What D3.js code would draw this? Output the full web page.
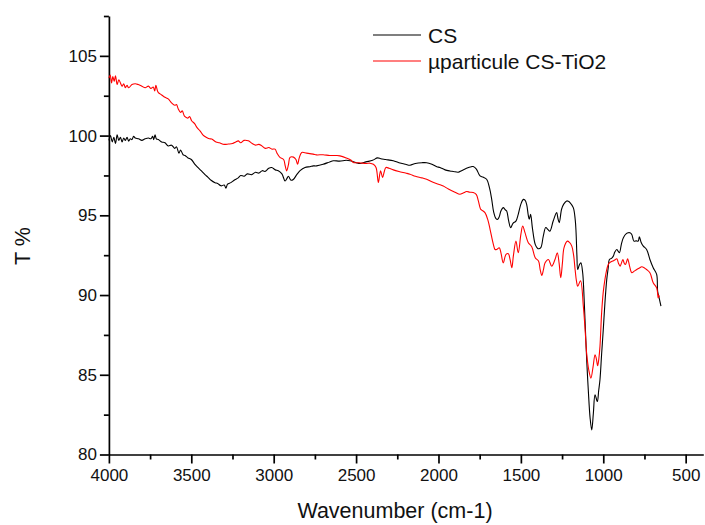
<!DOCTYPE html>
<html>
<head>
<meta charset="utf-8">
<script src="https://cdn.jsdelivr.net/npm/d3@7/dist/d3.min.js"></script>
<style>
  html, body { margin: 0; padding: 0; background: #fff; }
  svg { display: block; font-family: "Liberation Sans", Arial, sans-serif; }
</style>
</head>
<body>
<svg id="chart" width="705" height="525"></svg>
<script>
// FTIR transmittance spectra: [wavenumber (cm-1), T %]
const csPoints = [
  [4000,99.7],[3990,100.0],[3980,99.6],[3970,99.9],[3960,99.5],[3950,100.05],[3940,99.7],[3930,99.9],
  [3920,99.6],[3910,99.85],[3900,99.7],[3890,99.9],[3880,99.65],[3870,99.8],[3860,99.75],[3850,99.95],
  [3840,99.85],[3820,99.8],[3800,99.7],[3780,99.8],[3760,99.85],[3745,99.8],[3735,99.95],[3728,99.75],
  [3720,100.05],[3712,99.8],[3700,99.75],[3680,99.6],[3660,99.55],[3640,99.35],[3620,99.4],[3600,99.2],
  [3590,99.3],[3575,98.9],[3565,99.1],[3550,98.8],[3538,98.75],[3520,98.6],[3500,98.5],[3478,98.2],
  [3460,98.0],[3440,97.8],[3417,97.55],[3400,97.4],[3380,97.2],[3356,97.05],[3340,97.0],[3320,96.85],
  [3300,96.9],[3290,96.7],[3280,96.95],[3260,97.05],[3240,97.2],[3215,97.35],[3200,97.5],[3180,97.45],
  [3160,97.6],[3134,97.55],[3110,97.7],[3090,97.65],[3070,97.8],[3053,97.75],[3030,97.95],[3012,98.0],
  [2990,97.85],[2972,97.8],[2950,97.6],[2931,97.15],[2920,97.3],[2911,97.45],[2895,97.2],[2881,97.25],
  [2860,97.55],[2840,97.8],[2810,98.0],[2780,98.05],[2760,98.1],[2740,98.1],[2700,98.2],[2660,98.35],
  [2638,98.42],[2600,98.4],[2560,98.45],[2537,98.42],[2500,98.3],[2476,98.25],[2440,98.35],[2400,98.45],
  [2370,98.6],[2350,98.55],[2320,98.5],[2274,98.42],[2240,98.3],[2200,98.2],[2173,98.14],[2140,98.25],
  [2100,98.3],[2072,98.3],[2040,98.2],[2010,98.05],[1991,98.0],[1960,97.85],[1930,97.78],[1910,97.75],
  [1880,97.7],[1860,97.8],[1830,97.95],[1800,98.05],[1789,98.06],[1770,97.9],[1748,97.47],[1730,97.4],
  [1708,97.26],[1690,96.7],[1677,96.0],[1665,95.2],[1651,94.79],[1640,94.75],[1631,94.92],[1620,95.3],
  [1607,95.48],[1595,95.35],[1586,95.27],[1575,94.7],[1562,94.23],[1548,94.5],[1530,94.64],[1516,95.06],
  [1500,95.7],[1485,96.0],[1475,95.95],[1465,95.69],[1455,95.0],[1449,94.75],[1441,95.06],[1430,94.2],
  [1413,93.18],[1400,92.95],[1393,92.9],[1379,92.97],[1364,93.7],[1349,94.23],[1335,94.1],[1324,94.01],
  [1304,94.64],[1283,95.17],[1275,94.8],[1267,94.54],[1253,95.38],[1240,95.7],[1222,95.9],[1212,95.88],
  [1202,95.8],[1182,95.48],[1170,94.7],[1165,93.91],[1160,92.5],[1155,91.6],[1145,91.9],[1136,92.02],
  [1125,91.4],[1118,90.2],[1111,88.5],[1100,85.8],[1091,84.06],[1080,82.3],[1070,81.54],[1060,82.6],
  [1050,83.74],[1036,83.32],[1028,84.0],[1020,84.69],[1010,86.3],[1000,87.83],[990,89.5],[979,90.97],
  [970,91.7],[963,92.23],[950,92.3],[939,92.44],[930,92.7],[918,92.86],[910,92.75],[902,92.65],
  [890,93.2],[878,93.6],[860,93.85],[848,93.91],[838,93.9],[827,93.8],[814,93.38],[800,93.4],
  [788,93.38],[781,93.66],[770,93.3],[757,93.07],[737,92.86],[717,92.23],[697,91.71],[676,91.29],
  [670,90.24],[661,89.82],[650,89.3]
];

const tio2Points = [
  [4000,103.6],[3992,103.8],[3984,103.3],[3976,103.7],[3968,103.4],[3960,103.75],[3950,103.2],[3940,103.5],
  [3930,103.3],[3920,103.1],[3910,103.25],[3900,103.0],[3890,103.15],[3880,103.0],[3860,103.2],[3840,103.25],
  [3822,103.2],[3800,103.1],[3780,103.0],[3760,103.1],[3745,102.95],[3731,103.05],[3722,102.8],[3715,103.15],
  [3705,102.8],[3700,102.7],[3680,102.55],[3660,102.4],[3640,102.3],[3620,102.05],[3600,101.9],[3590,101.95],
  [3579,101.67],[3565,101.45],[3555,101.55],[3540,101.2],[3520,101.1],[3510,101.2],[3498,100.93],[3480,100.75],
  [3465,100.5],[3447,100.3],[3430,100.05],[3410,99.9],[3390,99.8],[3376,99.78],[3350,99.6],[3330,99.55],
  [3300,99.45],[3275,99.47],[3250,99.5],[3230,99.6],[3215,99.67],[3200,99.55],[3180,99.7],[3154,99.67],
  [3130,99.5],[3110,99.4],[3090,99.45],[3073,99.36],[3050,99.2],[3030,99.25],[3010,99.15],[2992,99.15],
  [2980,98.9],[2962,98.63],[2940,98.5],[2930,98.1],[2921,97.79],[2910,98.2],[2901,98.63],[2880,98.65],
  [2865,98.5],[2855,98.2],[2845,98.6],[2830,98.94],[2800,98.9],[2760,98.84],[2740,98.79],[2700,98.8],
  [2660,98.75],[2620,98.75],[2598,98.73],[2560,98.6],[2530,98.45],[2517,98.31],[2480,98.3],[2440,98.25],
  [2416,98.27],[2395,98.2],[2379,98.0],[2365,97.06],[2356,97.6],[2351,97.79],[2339,97.37],[2330,97.7],
  [2319,98.0],[2300,97.95],[2274,97.85],[2240,97.75],[2200,97.65],[2173,97.58],[2140,97.45],[2100,97.35],
  [2072,97.26],[2040,97.1],[2000,96.95],[1971,96.84],[1940,96.65],[1900,96.45],[1870,96.32],[1850,96.4],
  [1829,96.49],[1810,96.45],[1789,96.43],[1770,96.3],[1758,95.9],[1745,95.4],[1738,95.33],[1718,95.17],
  [1700,94.7],[1687,94.12],[1667,93.18],[1657,92.86],[1647,92.86],[1631,92.97],[1620,92.6],[1607,92.02],
  [1590,92.55],[1576,92.59],[1565,92.2],[1555,91.71],[1545,92.5],[1530,93.38],[1516,92.65],[1500,93.8],
  [1489,94.33],[1475,93.91],[1455,93.28],[1434,93.03],[1413,92.34],[1393,92.13],[1383,91.6],[1373,91.23],
  [1363,91.6],[1353,92.02],[1333,92.23],[1313,91.81],[1293,92.23],[1279,92.65],[1268,92.0],[1258,91.08],
  [1248,92.0],[1238,92.97],[1218,93.38],[1205,93.3],[1191,93.07],[1180,92.5],[1171,91.6],[1163,90.9],
  [1155,90.55],[1138,90.9],[1121,89.3],[1110,87.8],[1101,86.36],[1088,85.3],[1075,84.79],[1062,85.5],
  [1050,86.26],[1042,86.0],[1034,85.57],[1027,86.0],[1020,86.78],[1010,88.88],[1000,90.2],[990,90.97],
  [979,91.6],[970,91.9],[963,92.02],[943,92.13],[930,92.2],[918,92.28],[908,92.0],[898,91.81],
  [890,92.0],[881,92.23],[873,92.0],[866,91.92],[858,92.1],[852,92.28],[840,91.8],[827,91.4],
  [812,91.5],[797,91.6],[780,91.7],[767,91.77],[750,91.7],[737,91.6],[717,91.4],[697,90.77],
  [676,90.45],[667,89.82],[664,90.0],[660,89.88]
];

const seriesNames = ["CS", "\u00B5particule CS-TiO2"];
const seriesColors = ["#000000", "#ff0000"];

const xMajorTicks = [4000, 3500, 3000, 2500, 2000, 1500, 1000, 500];
const xMinorTicks = [3750, 3250, 2750, 2250, 1750, 1250, 750];
const yMajorTicks = [80, 85, 90, 95, 100, 105];
const yMinorTicks = [82.5, 87.5, 92.5, 97.5, 102.5, 107.5];

const xTitle = "Wavenumber (cm-1)";
const yTitle = "T %";

const svg = d3.select("#chart");

const x = d3.scaleLinear().domain([4000, 393]).range([108.9, 703.3]);
const y = d3.scaleLinear().domain([80, 107.5]).range([454.5, 16]);

const fmt = d3.format("d");

// bottom axis: major ticks with labels, minor ticks without
const xAxisG = svg.append("g").attr("transform", `translate(0,${y.range()[0]})`);
xAxisG.call(d3.axisBottom(x).tickValues(xMajorTicks).tickFormat(fmt).tickSize(9).tickSizeOuter(0).tickPadding(5));
const xMinorG = svg.append("g").attr("transform", `translate(0,${y.range()[0]})`);
xMinorG.call(d3.axisBottom(x).tickValues(xMinorTicks).tickFormat("").tickSize(5).tickSizeOuter(0));
xMinorG.select(".domain").remove();

// left axis
const yAxisG = svg.append("g").attr("transform", `translate(${x.range()[0]},0)`);
yAxisG.call(d3.axisLeft(y).tickValues(yMajorTicks).tickFormat(fmt).tickSize(9).tickSizeOuter(0).tickPadding(3));
const yMinorG = svg.append("g").attr("transform", `translate(${x.range()[0]},0)`);
yMinorG.call(d3.axisLeft(y).tickValues(yMinorTicks).tickFormat("").tickSize(5).tickSizeOuter(0));
yMinorG.select(".domain").remove();

svg.selectAll(".domain, .tick line").attr("stroke", "#000").attr("stroke-width", 1.7);
svg.selectAll(".tick text")
  .attr("font-family", "'Liberation Sans', Arial, sans-serif")
  .attr("font-size", 17)
  .attr("fill", "#111");

// spectra, drawn with a gentle spline so band shapes stay rounded
const line = d3.line()
  .x(d => x(d[0]))
  .y(d => y(d[1]))
  .curve(d3.curveCatmullRom.alpha(0.5));
[csPoints, tio2Points].forEach((pts, i) => {
  svg.append("path")
    .datum(pts)
    .attr("fill", "none")
    .attr("stroke", seriesColors[i])
    .attr("stroke-width", 1.1)
    .attr("stroke-linejoin", "round")
    .attr("d", line);
});

// axis titles
svg.append("text")
  .attr("x", 395).attr("y", 518)
  .attr("text-anchor", "middle")
  .attr("font-size", 21.5)
  .attr("fill", "#111")
  .text(xTitle);

svg.append("text")
  .attr("transform", "translate(30,246) rotate(-90)")
  .attr("text-anchor", "middle")
  .attr("font-size", 21.5)
  .attr("fill", "#111")
  .text(yTitle);

// legend
const legend = svg.append("g");
seriesNames.forEach((name, i) => {
  const cy = 35 + i * 26;
  legend.append("line")
    .attr("x1", 373).attr("x2", 421)
    .attr("y1", cy).attr("y2", cy)
    .attr("stroke", seriesColors[i]).attr("stroke-width", 1.1);
  legend.append("text")
    .attr("x", 428).attr("y", cy + 7.5)
    .attr("font-size", 21)
    .attr("fill", "#111")
    .text(name);
});
</script>
</body>
</html>
